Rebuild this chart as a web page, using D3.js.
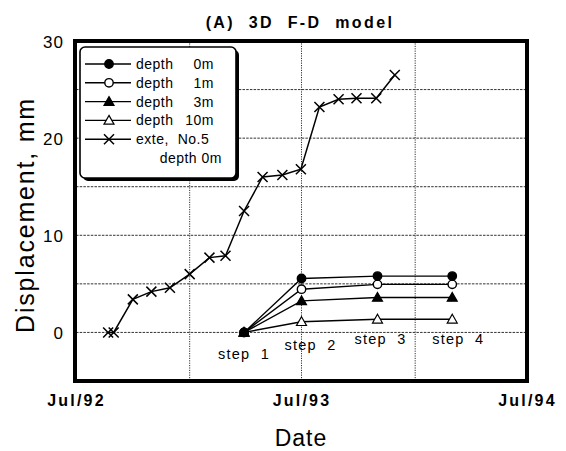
<!DOCTYPE html>
<html><head><meta charset="utf-8">
<script src="https://cdn.jsdelivr.net/npm/d3@7"></script>
<style>
body{margin:0;background:#fff;}
svg{display:block;font-family:"Liberation Sans",Arial,Helvetica,sans-serif;}
</style></head>
<body>
<svg id="chart" width="566" height="451"></svg>
<script>
// ---- data ----
const extDates = ["1992-08-22","1992-08-31","1992-10-01","1992-10-31","1992-11-30","1993-01-01","1993-02-02","1993-02-28","1993-03-30","1993-04-29","1993-05-31","1993-06-30","1993-07-30","1993-08-30","1993-09-28","1993-10-30","1993-11-29"];
const extValues = [0, 0, 3.4, 4.2, 4.6, 6.0, 7.7, 7.9, 12.5, 16.0, 16.2, 16.8, 23.2, 24.0, 24.1, 24.1, 26.5];
const stepDates = ["1993-03-30","1993-07-01","1993-11-01","1994-03-02"];
const stepLabels = ["step 1","step 2","step 3","step 4"];
const depth0 = [0, 5.55, 5.8, 5.8];
const depth1 = [0, 4.45, 4.95, 4.95];
const depth3 = [0, 3.25, 3.6, 3.6];
const depth10 = [0, 1.1, 1.35, 1.35];
const yTicks = [0, 10, 20, 30];
const yGrid = [0, 5, 10, 15, 20, 25];
const xTickDates = ["1992-07-01","1993-07-01","1994-07-01"];
const xTickLabels = ["Jul/92","Jul/93","Jul/94"];
const xGridDates = ["1993-01-01","1993-07-01","1994-01-01"];

const parse = d3.timeParse("%Y-%m-%d");
const svg = d3.select("#chart");
const L = 76, R = 527, T = 41, B = 381;
const x = d3.scaleTime().domain([parse("1992-07-01"), parse("1994-07-01")]).range([L, R]);
const y = d3.scaleLinear().domain([-5, 30]).range([B, T]);

// grid
svg.append("g").selectAll("line").data(yGrid).join("line")
  .attr("x1", L).attr("x2", R).attr("y1", d => y(d)).attr("y2", d => y(d))
  .attr("stroke", "#333").attr("stroke-width", 1).attr("stroke-dasharray", "2.5,1.2");
svg.append("g").selectAll("line").data(xGridDates).join("line")
  .attr("x1", d => x(parse(d))).attr("x2", d => x(parse(d))).attr("y1", T).attr("y2", B)
  .attr("stroke", "#333").attr("stroke-width", 1).attr("stroke-dasharray", "1.2,1.2");

// frame
svg.append("rect").attr("x", L - 1).attr("y", T).attr("width", R - L + 1).attr("height", B - T)
  .attr("fill", "none").attr("stroke", "#000").attr("stroke-width", 4);

// axes labels (via d3 axis, then styled)
const yAxis = svg.append("g").attr("transform", `translate(${L - 12},0)`)
  .call(d3.axisLeft(y).tickValues(yTicks).tickSize(0).tickPadding(0));
yAxis.select(".domain").remove();
yAxis.selectAll("text").attr("font-size", 17).attr("font-family", "Liberation Sans, Arial, sans-serif")
  .attr("fill", "#000").attr("dy", "0.36em").attr("letter-spacing", "1px");

const xAxis = svg.append("g").attr("transform", `translate(0,${B + 14})`)
  .call(d3.axisBottom(x).tickValues(xTickDates.map(parse)).tickSize(0).tickPadding(0)
    .tickFormat((d, i) => xTickLabels[i]));
xAxis.select(".domain").remove();
xAxis.selectAll("text").attr("font-size", 16).attr("font-weight", "bold")
  .attr("font-family", "Liberation Sans, Arial, sans-serif").attr("fill", "#000")
  .attr("letter-spacing", "2.2px").attr("dy", "0.71em");

// titles
svg.append("text").attr("x", 300).attr("y", 28).attr("text-anchor", "middle")
  .attr("font-size", 16).attr("font-weight", "bold").attr("letter-spacing", "2.4px")
  .attr("xml:space", "preserve").text("(A)  3D  F-D  model");
svg.append("text").attr("x", 301).attr("y", 446).attr("text-anchor", "middle")
  .attr("font-size", 23).attr("letter-spacing", "1px").text("Date");
svg.append("text").attr("transform", "translate(34,215) rotate(-90)").attr("text-anchor", "middle")
  .attr("font-size", 25).attr("letter-spacing", "1.8px").text("Displacement, mm");

// markers
function marker(g, type, cx, cy) {
  if (type === "fcircle" || type === "ocircle") {
    g.append("circle").attr("cx", cx).attr("cy", cy).attr("r", 4.2)
      .attr("fill", type === "fcircle" ? "#000" : "#fff").attr("stroke", "#000").attr("stroke-width", 1.4);
  } else if (type === "ftri" || type === "otri") {
    const s = 5;
    g.append("path").attr("d", `M${cx},${cy - s}L${cx + s},${cy + s * 0.75}L${cx - s},${cy + s * 0.75}Z`)
      .attr("fill", type === "ftri" ? "#000" : "#fff").attr("stroke", "#000").attr("stroke-width", 1.2);
  } else if (type === "x") {
    const s = 5;
    g.append("path").attr("d", `M${cx - s},${cy - s}L${cx + s},${cy + s}M${cx - s},${cy + s}L${cx + s},${cy - s}`)
      .attr("stroke", "#000").attr("stroke-width", 1.5).attr("fill", "none");
  }
}

const line = d3.line().x(d => x(d[0])).y(d => y(d[1]));
const series = [
  { vals: depth10, type: "otri" },
  { vals: depth3, type: "ftri" },
  { vals: depth1, type: "ocircle" },
  { vals: depth0, type: "fcircle" }
];
series.forEach(s => {
  const pts = stepDates.map((d, i) => [parse(d), s.vals[i]]);
  svg.append("path").datum(pts).attr("d", line).attr("fill", "none").attr("stroke", "#000").attr("stroke-width", 1.4);
});
series.forEach(s => {
  const g = svg.append("g");
  stepDates.forEach((d, i) => marker(g, s.type, x(parse(d)), y(s.vals[i])));
});

const extPts = extDates.map((d, i) => [parse(d), extValues[i]]);
svg.append("path").datum(extPts).attr("d", line).attr("fill", "none").attr("stroke", "#000").attr("stroke-width", 1.5);
const gx = svg.append("g");
extPts.forEach(p => marker(gx, "x", x(p[0]), y(p[1])));

// step labels
const stepOff = [[0, 27], [9, 18], [3, 12], [6, 12]];
svg.append("g").selectAll("text").data(stepLabels).join("text")
  .attr("x", (d, i) => x(parse(stepDates[i])) + stepOff[i][0])
  .attr("y", (d, i) => y(0) + stepOff[i][1])
  .attr("text-anchor", "middle").attr("font-size", 14.5).attr("letter-spacing", "1.2px")
  .attr("xml:space", "preserve").text(d => d.replace(" ", "  "));

// legend
const lg = svg.append("g");
lg.append("rect").attr("x", 83).attr("y", 50).attr("width", 156).attr("height", 131).attr("rx", 5).attr("fill", "#000");
lg.append("rect").attr("x", 80).attr("y", 47).attr("width", 156).attr("height", 131).attr("rx", 5)
  .attr("fill", "#fff").attr("stroke", "#000").attr("stroke-width", 1.6);
const legItems = [
  { type: "fcircle", num: "0m" },
  { type: "ocircle", num: "1m" },
  { type: "ftri", num: "3m" },
  { type: "otri", num: "10m" },
  { type: "x", num: null }
];
legItems.forEach((it, i) => {
  const ly = 64 + i * 18.8;
  lg.append("line").attr("x1", 85).attr("x2", 131).attr("y1", ly).attr("y2", ly).attr("stroke", "#000").attr("stroke-width", 1.4);
  marker(lg, it.type, 109, ly);
  if (it.num) {
    lg.append("text").attr("x", 136).attr("y", ly + 5).attr("font-size", 14).attr("letter-spacing", "0.5px").text("depth");
    lg.append("text").attr("x", 214).attr("y", ly + 5).attr("text-anchor", "end").attr("font-size", 14).attr("letter-spacing", "0.5px").text(it.num);
  } else {
    lg.append("text").attr("x", 136).attr("y", ly + 5).attr("font-size", 14).attr("letter-spacing", "0.5px")
      .attr("xml:space", "preserve").text("exte,  No.5");
    lg.append("text").attr("x", 222).attr("y", ly + 5 + 18.8).attr("text-anchor", "end").attr("font-size", 14).attr("letter-spacing", "0.5px").text("depth 0m");
  }
});
</script>
</body></html>
